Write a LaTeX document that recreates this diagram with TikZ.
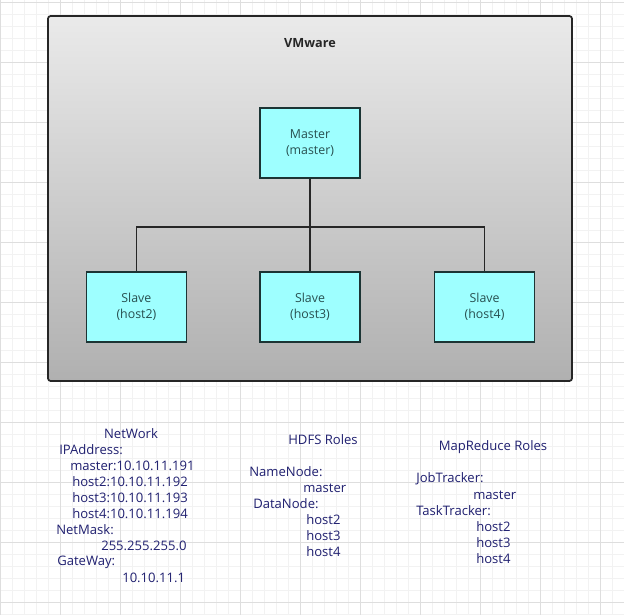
\documentclass[tikz,border=0pt]{standalone}
\usepackage{fontspec}
\setmainfont{Open Sans}
\usetikzlibrary{positioning}
\definecolor{vmcyan}{RGB}{158, 255, 255}
\definecolor{vmedge}{RGB}{28, 52, 52}
\definecolor{vmtext}{RGB}{40, 80, 80}
\definecolor{vmnavy}{RGB}{32, 32, 112}
\definecolor{vmtop}{RGB}{234, 234, 234}
\definecolor{vmbottom}{RGB}{176, 176, 176}

\begin{document}
\begin{tikzpicture}[
    x=0.025cm, y=-0.025cm,
    font=\fontsize{9.3}{11}\selectfont,
    vmframe/.style={
        rectangle,
        rounded corners=2pt,
        draw=black!85,
        line width=1.2pt,
        top color=vmtop,
        bottom color=vmbottom,
        minimum width=13.1cm,
        minimum height=9.125cm
    },
    hostbox/.style={
        rectangle,
        draw=vmedge,
        fill=vmcyan,
        line width=1.1pt,
        minimum width=2.5cm,
        minimum height=1.75cm,
        align=center,
        text=vmtext,
        font=\fontsize{8.8}{11}\selectfont
    },
    link/.style={
        line width=1.1pt,
        black!85
    },
    info/.style={
        anchor=west,
        inner sep=0pt,
        text=vmnavy
    },
    heading/.style={
        inner sep=0pt,
        text=vmnavy
    }
]

% Background grid
\useasboundingbox (0,0) rectangle (624,615);
\fill[white] (0,0) rectangle (624,615);
\begin{scope}[yshift=-0.05cm]
\draw[black!5, line width=0.3pt, step=0.3cm] (0,-2) grid (624,617);
\draw[black!13, line width=0.4pt, step=1.5cm] (0,-2) grid (624,617);
\end{scope}

% VMware frame
\node[vmframe] (vm) at (310,198.5) {};
\node[font=\fontsize{9}{10}\selectfont\bfseries, text=black!85] (vmtitle) at (310,43) {VMware};

% Hosts
\node[hostbox] (master) at (310,143) {Master\\(master)};
\node[hostbox] (host3) at (310,307) {Slave\\(host3)};
\node[hostbox, left=1.8cm of host3] (host2) {Slave\\(host2)};
\node[hostbox, right=1.825cm of host3] (host4) {Slave\\(host4)};

% Connections
\draw[link] (master.south) -- ++(0,48) coordinate (fork);
\draw[link] (fork) -| (host2.north);
\draw[link] (fork) -- (host3.north);
\draw[link] (fork) -| (host4.north);

% Network settings
\node[heading] (nettitle) at (131,434) {NetWork};
\node[info] (ipaddr) at (59,450) {IPAddress:};
\node[info] (ipmaster) at (70,466) {master:10.10.11.191};
\node[info] (iphost2) at (72,482) {host2:10.10.11.192};
\node[info] (iphost3) at (72,498) {host3:10.10.11.193};
\node[info] (iphost4) at (72,514) {host4:10.10.11.194};
\node[info] (netmask) at (56,530) {NetMask:};
\node[info] (maskval) at (101,546) {255.255.255.0};
\node[info] (gateway) at (57,562) {GateWay:};
\node[info] (gateval) at (122,578) {10.10.11.1};

% HDFS roles
\node[heading] (hdfstitle) at (323,440) {HDFS Roles};
\node[info] (namenode) at (249,472) {NameNode:};
\node[info] (nnmaster) at (303,488) {master};
\node[info] (datanode) at (253,504) {DataNode:};
\node[info] (dnhost2) at (306,520) {host2};
\node[info] (dnhost3) at (306,536) {host3};
\node[info] (dnhost4) at (306,552) {host4};

% MapReduce roles
\node[heading] (mrtitle) at (493,447) {MapReduce Roles};
\node[info] (jobtracker) at (416,479) {JobTracker:};
\node[info] (jtmaster) at (473,495) {master};
\node[info] (tasktracker) at (416,511) {TaskTracker:};
\node[info] (tthost2) at (476,527) {host2};
\node[info] (tthost3) at (476,543) {host3};
\node[info] (tthost4) at (476,559) {host4};

\end{tikzpicture}
\end{document}
